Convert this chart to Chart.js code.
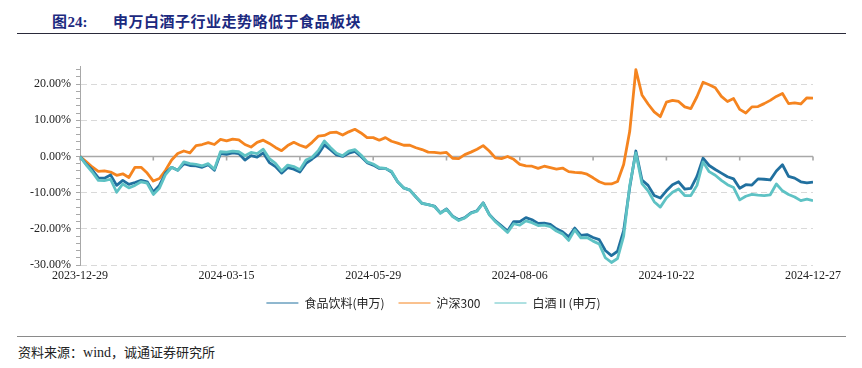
<!DOCTYPE html>
<html>
<head>
<meta charset="utf-8">
<script src="https://cdn.jsdelivr.net/npm/chart.js@4.4.1/dist/chart.umd.min.js"></script>
<style>
  html, body { margin: 0; padding: 0; background: #fff; }
  body { width: 862px; height: 368px; position: relative; overflow: hidden; }
  .title { position: absolute; top: 10px; font-weight: bold; font-size: 15px; color: #1c2a80;
           font-family: "Liberation Serif", "Noto Sans CJK SC", serif; white-space: nowrap; }
  .title .cn { font-family: "Noto Sans CJK SC", sans-serif; letter-spacing: 0.5px; }
  .rule-top { position: absolute; left: 17px; top: 33px; width: 829px; height: 1px; background: #2a2a3a; }
  .rule-bot { position: absolute; left: 17px; top: 336px; width: 829px; height: 1px; background: #8a8a8a; }
  .foot { position: absolute; left: 18px; top: 342px; font-size: 13px; color: #222;
          font-family: "Noto Sans CJK SC", sans-serif; white-space: nowrap; }
  .foot .en { font-family: "Liberation Serif", serif; font-size: 14px; }
  #wrap { position: absolute; left: 0; top: 44px; width: 862px; height: 279px; }
</style>
</head>
<body>
<div class="title" style="left:52px;"><span class="cn">图</span>24:</div>
<div class="title" style="left:113px;"><span class="cn">申万白酒子行业走势略低于食品板块</span></div>
<div class="rule-top"></div>
<div id="wrap"><canvas id="c"></canvas></div>
<div class="rule-bot"></div>
<div class="foot">资料来源：<span class="en">wind</span>，诚通证券研究所</div>
<script>
// x tick labels (shown at every other tick)
const dateLabels = ['2023-12-29', '2024-03-15', '2024-05-29', '2024-08-06', '2024-10-22', '2024-12-27'];
const seriesNames = ['食品饮料(申万)', '沪深300', '白酒Ⅱ(申万)'];

// cumulative return, %, sampled roughly every two trading days
const foodBev = [
  0, -2.1, -3.7, -5.9, -6.0, -5.1, -8.0, -6.6, -7.7, -7.2,
  -6.6, -7.0, -9.8, -8.0, -4.6, -3.0, -3.8, -2.0, -2.5, -2.6,
  -3.0, -2.3, -3.8, 0.8, 0.6, 1.0, 0.8, -1.0, 0.2, -0.2,
  1.0, -1.7, -2.8, -4.6, -3.1, -3.5, -4.3, -1.9, -0.7, 0.6,
  3.2, 1.9, 0.4, 0.0, 0.9, 1.4, 0.0, -1.7, -2.4, -3.3,
  -3.3, -4.3, -7.0, -8.7, -9.3, -11.2, -13.0, -13.3, -13.7, -15.6,
  -14.5, -16.5, -17.5, -16.9, -15.6, -15.0, -12.8, -16.0, -17.8, -19.2,
  -20.6, -18.0, -18.0, -16.9, -17.5, -18.5, -18.4, -18.8, -20.0, -20.8,
  -22.2, -19.8, -21.8, -21.6, -22.4, -23.0, -26.0, -27.4, -26.2, -20.5,
  -8.5, 1.5, -6.5, -8.0, -10.8, -11.5, -9.5, -7.8, -7.0, -9.0,
  -8.8, -5.5, -0.5, -2.5, -3.6, -4.6, -5.6, -6.2, -8.8, -7.8,
  -7.9, -6.2, -6.3, -6.5, -4.0, -2.3, -5.5, -6.0, -7.0, -7.3,
  -7.1
];
const hs300 = [
  0, -1.4, -2.9, -4.1, -4.0, -4.3, -5.2, -4.8, -5.8, -3.0,
  -3.0, -4.6, -6.8, -6.1, -3.8, -1.0, 0.8, 1.5, 1.0, 3.0,
  3.3, 3.8, 3.3, 4.7, 4.3, 4.8, 4.6, 3.3, 2.6, 3.9,
  4.5, 3.6, 2.5, 1.6, 3.0, 3.9, 3.1, 2.5, 3.9, 5.6,
  5.8, 6.6, 6.7, 5.9, 6.8, 7.5, 6.5, 5.2, 5.2, 4.5,
  5.2, 4.2, 3.7, 3.1, 3.1, 2.4, 1.9, 1.2, 1.1, 0.9,
  1.1, -0.5, -0.6, 0.5, 1.2, 2.0, 3.0, 1.5, -0.4, -0.6,
  0.0, -0.8, -2.2, -2.6, -2.7, -3.3, -2.7, -3.1, -3.5, -3.2,
  -4.2, -4.4, -4.5, -4.9, -5.9, -7.0, -7.6, -7.6, -6.9, -2.2,
  7.0, 24.0, 17.0, 14.5, 12.3, 11.0, 15.0, 15.5, 15.2, 13.7,
  13.2, 16.5, 20.5, 19.8, 19.0, 16.6, 15.2, 16.0, 13.0, 12.0,
  13.7, 13.8, 14.6, 15.5, 16.6, 17.4, 14.6, 14.8, 14.5, 16.2,
  16.1
];
const baijiu = [
  0, -2.3, -4.3, -6.6, -6.7, -6.3, -9.9, -7.6, -8.7, -8.0,
  -7.0, -7.4, -10.5, -8.8, -5.0, -3.0, -3.8, -1.5, -2.0, -2.2,
  -2.6, -2.0, -3.5, 1.3, 1.2, 1.5, 1.3, 0.2, 1.1, 0.8,
  2.0, -0.6, -1.9, -4.0, -2.4, -2.8, -3.7, -1.0, -0.2, 1.6,
  4.3, 2.5, 0.9, 0.2, 1.5, 1.9, 0.4, -1.5, -2.1, -3.1,
  -3.3, -4.1, -7.0, -8.7, -9.3, -11.2, -13.0, -13.3, -13.8, -15.7,
  -14.6, -16.6, -17.7, -17.0, -15.7, -15.1, -12.9, -16.1, -18.0, -19.5,
  -21.0, -18.6, -19.0, -17.8, -18.3, -19.1, -19.0, -19.4, -20.6, -21.4,
  -23.2, -20.3, -22.5, -22.4, -23.4, -24.2, -28.0, -29.3, -28.2, -22.0,
  -8.0, 1.0, -7.5, -9.5, -12.5, -14.0, -11.5, -9.9, -9.0, -10.8,
  -10.8, -8.0, -1.5, -4.2, -5.2, -6.6, -7.8, -8.6, -12.0, -11.0,
  -10.5, -10.7, -10.8, -10.6, -7.6, -9.5, -10.5, -11.2, -12.2, -11.8,
  -12.2
];

const colors = ['#21709f', '#f5841f', '#5ec2c4'];
const toXY = arr => arr.map((v, i) => ({ x: i, y: v }));
const lastIdx = foodBev.length - 1;
const tickStep = lastIdx / 10;

const zeroLine = {
  id: 'zeroLine',
  afterLayout(chart) {
    if (chart.legend) { chart.legend.left += 27; chart.legend.right += 27; }
  },
  beforeDatasetsDraw(chart) {
    const { ctx, chartArea, scales } = chart;
    const y0 = scales.y.getPixelForValue(0);
    ctx.save();
    ctx.strokeStyle = '#a8a8a8';
    ctx.lineWidth = 1.6;
    ctx.beginPath();
    ctx.moveTo(chartArea.left, y0);
    ctx.lineTo(chartArea.right, y0);
    scales.x.ticks.forEach(t => {
      const px = scales.x.getPixelForValue(t.value);
      ctx.moveTo(px, y0);
      ctx.lineTo(px, y0 + 4);
    });
    ctx.stroke();
    ctx.restore();
  }
};

new Chart(document.getElementById('c'), {
  type: 'line',
  data: {
    datasets: [
      { label: seriesNames[0], data: toXY(foodBev), borderColor: colors[0], backgroundColor: colors[0], order: 1 },
      { label: seriesNames[1], data: toXY(hs300), borderColor: colors[1], backgroundColor: colors[1], order: 2 },
      { label: seriesNames[2], data: toXY(baijiu), borderColor: colors[2], backgroundColor: colors[2], order: 0 }
    ]
  },
  options: {
    responsive: true,
    maintainAspectRatio: false,
    animation: false,
    devicePixelRatio: 1,
    layout: { padding: { top: 22, right: 49, left: 0, bottom: 4 } },
    elements: {
      line: { borderWidth: 2.8, tension: 0, borderJoinStyle: 'round' },
      point: { radius: 0, hoverRadius: 0 }
    },
    plugins: {
      tooltip: { enabled: false },
      legend: {
        position: 'bottom',
        labels: {
          usePointStyle: true,
          pointStyle: 'line',
          pointStyleWidth: 32,
          boxHeight: 12,
          padding: 14,
          color: '#222',
          font: { family: '"Noto Sans CJK SC", sans-serif', size: 12 },
          sort: (a, b) => a.datasetIndex - b.datasetIndex
        }
      }
    },
    scales: {
      x: {
        type: 'linear',
        min: 0,
        max: lastIdx,
        afterBuildTicks: s => { s.ticks = []; for (let k = 0; k <= 10; k++) s.ticks.push({ value: k * tickStep }); },
        afterFit: s => { s.height = 18; },
        grid: { display: false, drawTicks: false },
        border: { display: false },
        ticks: {
          autoSkip: false,
          maxRotation: 0,
          padding: 4,
          color: '#222',
          font: { family: '"Liberation Serif", serif', size: 12 },
          callback: (v, i) => (i % 2 === 0 ? dateLabels[i / 2] : '')
        }
      },
      y: {
        min: -30,
        max: 25,
        afterFit: s => { s.width = 80; },
        afterBuildTicks: s => { s.ticks = []; for (let v = -30; v <= 24; v += 2) s.ticks.push({ value: v }); },
        grid: {
          color: c => (c.tick && c.tick.value % 10 === 0 && c.tick.value !== 0 ? '#d9d9d9' : 'rgba(0,0,0,0)'),
          tickColor: '#a8a8a8',
          tickLength: 4,
          lineWidth: 1
        },
        border: { display: true, color: '#a8a8a8', width: 1, dash: [6, 4] },
        ticks: {
          autoSkip: false,
          padding: 5,
          color: '#222',
          font: { family: '"Liberation Serif", serif', size: 12 },
          callback: v => (v % 10 === 0 ? v.toFixed(2) + '%' : '')
        }
      }
    }
  },
  plugins: [zeroLine]
});
</script>
</body>
</html>
